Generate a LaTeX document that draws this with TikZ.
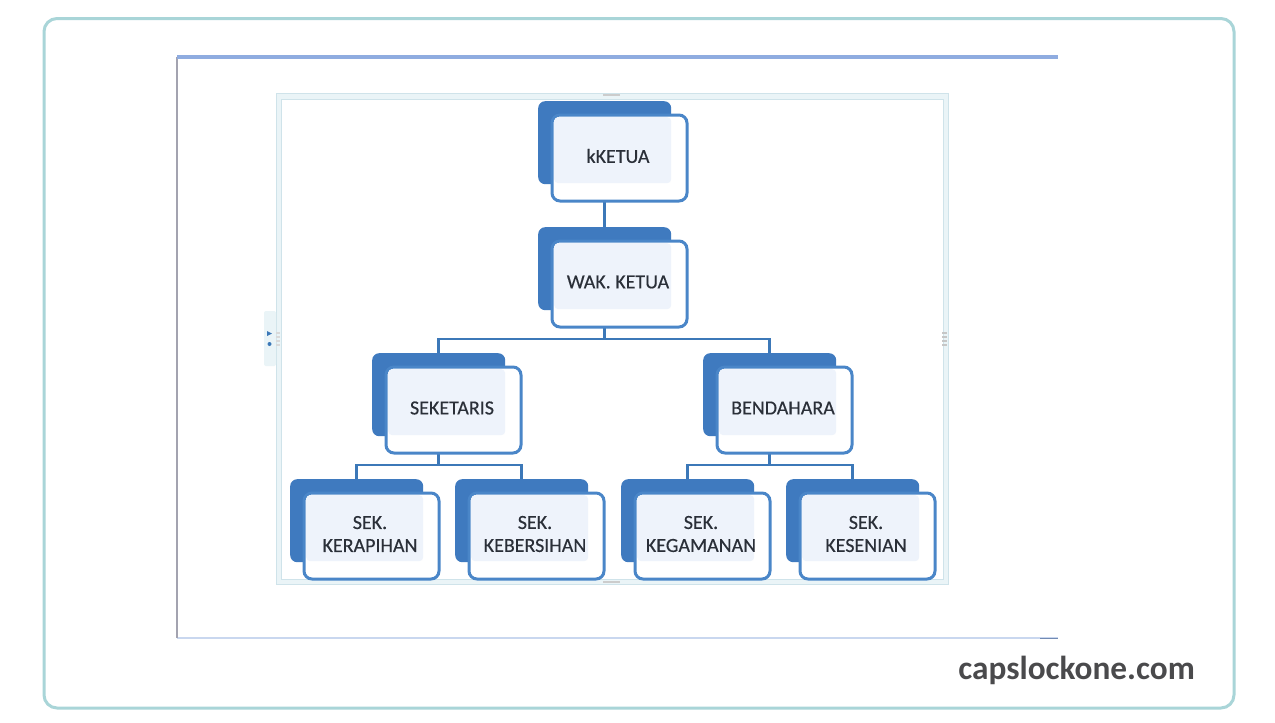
\documentclass[tikz,border=0pt]{standalone}
\usepackage{fontspec}
\setmainfont{Carlito}
\newfontfamily\labfont{Carlito}[FakeBold=0.35]
\usetikzlibrary{backgrounds}
\definecolor{backblue}{HTML}{3F7ABF}
\definecolor{lineblue}{HTML}{3C78B8}
\definecolor{edgeblue}{HTML}{4A86C8}
\definecolor{innerfill}{HTML}{EEF3FB}
\definecolor{outerteal}{HTML}{A9D5D8}
\definecolor{framepale}{HTML}{EAF4F7}
\definecolor{frameedge}{HTML}{CFE3EA}
\definecolor{topbar}{HTML}{8FACE0}
\definecolor{botbar}{HTML}{C9D7EF}
\definecolor{leftbar}{HTML}{A3A3B0}
\definecolor{lbl}{HTML}{2A2F38}
\definecolor{mark}{HTML}{4A4A4C}
\tikzset{
 backbox/.style={draw=none,fill=backblue,rounded corners=7pt,minimum width=133pt,minimum height=83pt,inner sep=0pt,anchor=north west},
 frontbox/.style={draw=edgeblue,line width=3pt,fill=white,rounded corners=8pt,minimum width=135pt,minimum height=86pt,inner sep=0pt,anchor=north west},
 innerbox/.style={fill=innerfill,minimum width=117pt,minimum height=66pt,inner sep=0pt,anchor=north west,rounded corners=4pt},
 lab/.style={text=lbl,font=\labfont\fontsize{20}{23}\selectfont,align=center,inner sep=0pt},
 conn/.style={draw=lineblue,line width=2.8pt},
}
\newcommand{\orgbox}[5]{%
  \node[backbox] (#1b) at (#2,#3) {};
  \node[frontbox] (#1f) at (#2+12.5,#3+12.5) {};
  \node[innerbox] (#1i) at (#2+16,#3+16) {};
  \node[lab] (#1t) at (#2+80,#3+#5) {#4};
}
\begin{document}
\begin{tikzpicture}[x=1pt,y=-1pt]
\useasboundingbox (0,0) rectangle (1275,723);
\draw[outerteal,line width=3pt,rounded corners=13pt] (44,18.5) rectangle (1234,708);
% page of the document
\draw[botbar,line width=2pt] (177,638) -- (1058,638);
\draw[topbar!80!black,line width=1.6pt] (1040,638.3) -- (1058,638.3);
\draw[leftbar,line width=1.5pt] (177,57) -- (177,638);
\draw[topbar,line width=4.5pt] (177,57) -- (1058,57);
% diagram frame
\draw[framepale,line width=5pt] (278.5,96) rectangle (945.5,581.5);
\draw[frameedge,line width=1pt] (276,93.5) rectangle (948,584);
\draw[frameedge,line width=1pt] (281,99) rectangle (943,579);
\fill[framepale,rounded corners=2pt] (264,311) -- (276,311) -- (276,366) -- (264,366) -- cycle;
\fill[lineblue] (267,331) -- (272,333.5) -- (267,336) -- cycle;
\fill[lineblue] (269.5,344) circle (2pt);
\foreach \p in {(603,94),(603,581)}{\fill[gray!40] \p rectangle ++(17,1.5);}
\foreach \yy in {332,336,340,344}{\fill[gray!45] (942,\yy) rectangle ++(5,1.6);\fill[gray!30] (276,\yy) rectangle ++(4,1.6);}
% boxes
\orgbox{k}{538}{101}{kKETUA}{55}
\orgbox{w}{538}{227}{WAK. KETUA}{55}
\orgbox{s}{372}{353}{SEKETARIS}{55}
\orgbox{d}{703}{353}{BENDAHARA}{55}
\orgbox{a}{290}{479}{SEK.\\KERAPIHAN}{55}
\orgbox{e}{455}{479}{SEK.\\KEBERSIHAN}{55}
\orgbox{g}{621}{479}{SEK.\\KEGAMANAN}{55}
\orgbox{n}{786}{479}{SEK.\\KESENIAN}{55}
% connectors under the boxes
\coordinate (j1) at (wb.south |- 0,339);
\coordinate (j2) at (sb.south |- 0,465);
\coordinate (j3) at (db.south |- 0,465);
\begin{scope}[on background layer]
\fill[white] (0,0) rectangle (1275,723);
\draw[conn] (kb.south) -- (wb.north);
\draw[conn] (wb.south) -- (j1);
\draw[conn] (sb.north) |- (j1) -| (db.north);
\draw[conn] (sb.south) -- (j2);
\draw[conn] (ab.north) |- (j2) -| (eb.north);
\draw[conn] (db.south) -- (j3);
\draw[conn] (gb.north) |- (j3) -| (nb.north);
\end{scope}
\node[text=mark,font=\fontsize{33.3}{36}\selectfont\bfseries,anchor=base east,inner sep=0pt] (brand) at (1195,679) {capslockone.com};
\end{tikzpicture}
\end{document}
